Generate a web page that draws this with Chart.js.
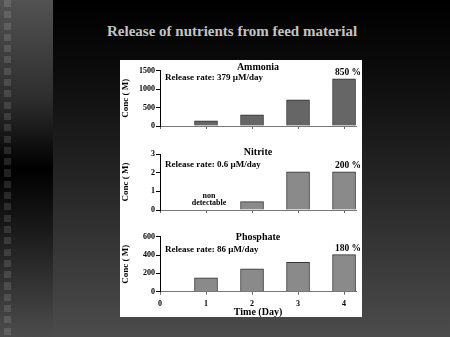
<!DOCTYPE html>
<html>
<head>
<meta charset="utf-8">
<script src="https://cdn.jsdelivr.net/npm/chart.js@4/dist/chart.umd.min.js"></script>
<style>
  html, body { margin: 0; padding: 0; }
  body {
    width: 450px; height: 337px; position: relative; overflow: hidden;
    background: linear-gradient(to bottom, #000 0%, #0b0b0b 20%, #262626 55%, #4c4c4c 100%);
  }
  #strip {
    position: absolute; left: 0; top: 0; width: 53px; height: 337px;
    background: linear-gradient(to bottom, #525252 0%, #2c2c2c 30%, #000 50%, #1c1c1c 70%, #4c4c4c 100%);
  }
  #strip::after {
    content: ''; position: absolute; left: 4px; top: 0; width: 7px; height: 100%;
    background: repeating-linear-gradient(to bottom, rgba(255,255,255,0.12) 0 7px, transparent 7px 11.3px);
  }
  h1 {
    position: absolute; left: 107px; top: 23px; margin: 0;
    font: bold 15px/17px "Liberation Serif", serif; color: #c4c4c4; white-space: nowrap;
  }
  #panel { position: absolute; left: 120px; top: 60px; width: 242px; height: 257px; background: #fff; }
  #panel canvas { position: absolute; left: 0; }
</style>
</head>
<body>
<div id="strip"></div>
<h1>Release of nutrients from feed material</h1>
<div id="panel">
  <canvas id="ammonia" width="242" height="80" style="top:0"></canvas>
  <canvas id="nitrite" width="242" height="85" style="top:80px"></canvas>
  <canvas id="phosphate" width="242" height="92" style="top:165px"></canvas>
</div>
<script>
const days = [1, 2, 3, 4];
const ammonia = [140, 300, 710, 1280];
const nitrite = [null, 0.45, 2.05, 2.05]; // day 1 non detectable
const phosphate = [150, 250, 320, 405];

const names = ['Ammonia', 'Nitrite', 'Phosphate'];
const releaseRates = ['Release rate: 379 µM/day', 'Release rate: 0.6 µM/day', 'Release rate: 86 µM/day'];
const increases = ['850 %', '200 %', '180 %'];
const yMax = [1500, 3, 600];
const yStep = [500, 1, 200];

const serif = '"Liberation Serif", "Times New Roman", serif';

// titles, rate line, % label, axis titles
const panelText = {
  id: 'panelText',
  afterDraw(chart, args, o) {
    const { ctx, chartArea: a, scales: { x, y } } = chart;
    const cx = (a.left + a.right) / 2;
    ctx.save();
    ctx.fillStyle = '#000';
    ctx.textBaseline = 'middle';

    ctx.textAlign = 'center';
    ctx.font = 'bold 10px ' + serif;
    ctx.fillText(o.name, cx, o.nameY);

    ctx.textAlign = 'left';
    ctx.font = 'bold 9px ' + serif;
    ctx.fillText(o.rate, a.left + 5, o.rateY);

    const pts = chart.data.datasets[0].data;
    const last = pts[pts.length - 1];
    ctx.textAlign = 'center';
    ctx.font = 'bold 9.5px ' + serif;
    ctx.fillText(o.pct, x.getPixelForValue(last.x) + 4, y.getPixelForValue(last.y) - 6);

    if (o.note1) {
      ctx.font = 'bold 8px ' + serif;
      const nx = x.getPixelForValue(1) + 3;
      ctx.fillText(o.note1, nx, a.bottom - 14.3);
      ctx.fillText(o.note2, nx, a.bottom - 7);
    }

    if (o.xTitle) {
      ctx.font = 'bold 10px ' + serif;
      ctx.fillText(o.xTitle, cx, a.bottom + 20.3);
    }

    ctx.translate(6, (a.top + a.bottom) / 2);
    ctx.rotate(-Math.PI / 2);
    ctx.font = 'bold 9px ' + serif;
    ctx.fillText('Conc ( M)', 0, 0);
    ctx.restore();
  }
};

function makeChart(id, k, values, color, lay) {
  return new Chart(document.getElementById(id), {
    type: 'bar',
    data: {
      datasets: [{
        data: days.map((d, i) => ({ x: d, y: values[i] })),
        backgroundColor: color,
        borderColor: '#333',
        borderWidth: 1,
        barThickness: 23
      }]
    },
    options: {
      responsive: false,
      animation: false,
      layout: { padding: { top: lay.padTop, right: 6, left: 0, bottom: 0 } },
      plugins: {
        legend: { display: false },
        tooltip: { enabled: false },
        panelText: {
          name: names[k], rate: releaseRates[k], pct: increases[k],
          nameY: lay.nameY, rateY: lay.rateY,
          note1: lay.note1, note2: lay.note2, xTitle: lay.xTitle
        }
      },
      scales: {
        x: {
          type: 'linear', min: 0, max: 4.26, offset: false,
          afterFit: (s) => { s.height = lay.xHeight; },
          grid: { drawOnChartArea: false, offset: false, tickLength: 3, color: '#666' },
          border: { color: '#777' },
          ticks: {
            stepSize: 1, includeBounds: false, padding: 4.5,
            color: lay.showX ? '#000' : 'transparent',
            font: { family: serif, size: 8, weight: 'bold' }
          }
        },
        y: {
          min: 0, max: yMax[k],
          afterFit: (s) => { s.width = 40; },
          grid: { drawOnChartArea: false, tickLength: 4, color: '#000' },
          border: { color: '#000' },
          ticks: {
            stepSize: yStep[k], padding: 1, color: '#000',
            callback: (v) => String(v),
            font: { family: serif, size: 8, weight: 'bold' }
          }
        }
      }
    },
    plugins: [panelText]
  });
}

makeChart('ammonia', 0, ammonia, '#666', { padTop: 10.7, xHeight: 14, nameY: 7.2, rateY: 17.7 });
makeChart('nitrite', 1, nitrite, '#8a8a8a', { padTop: 14, xHeight: 15, nameY: 12.3, rateY: 25, note1: 'non', note2: 'detectable' });
makeChart('phosphate', 2, phosphate, '#8a8a8a', { padTop: 11.7, xHeight: 25.3, nameY: 12.3, rateY: 25, showX: true, xTitle: 'Time (Day)' });
</script>
</body>
</html>
